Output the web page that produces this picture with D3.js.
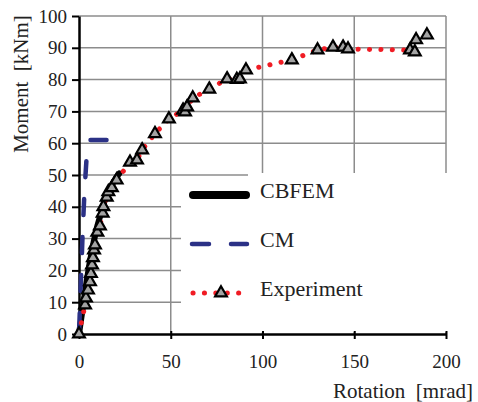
<!DOCTYPE html>
<html>
<head>
<meta charset="utf-8">
<script src="https://cdn.jsdelivr.net/npm/d3@7"></script>
<style>
  body { margin: 0; background: #fff; }
  svg { display: block; font-family: "Liberation Serif", "Times New Roman", serif; }
  text { white-space: pre; }
</style>
</head>
<body>
<svg id="chart" width="478" height="402"></svg>
<script>
// Experiment (rotation in mrad, moment in kNm)
const expRot = [0, 3.3, 3.8, 4.9, 6, 6.5, 7.1, 7.6, 8.2, 8.7, 10, 11.4, 12.9, 13.3, 15.1, 16, 17.9, 20.5,
  27.8, 31.6, 34.4, 41.4, 49, 56.7, 57.8, 58.9, 62, 71, 80.7, 86, 87.7, 91, 116, 130,
  138.4, 143.9, 146.6, 180.4, 183, 183.7, 189.6];
const expMom = [0, 9.1, 11.3, 13.8, 16.4, 19, 21.7, 24, 26.4, 28, 32, 34, 38, 40, 43, 44.7, 46, 48.4,
  54, 54.7, 57.9, 63, 67.6, 70.4, 69.8, 71.4, 74.2, 77, 80.2, 80, 80.2, 83, 86.2, 89.3,
  90.2, 90.2, 89.6, 89.3, 88.7, 92.5, 94];

// CBFEM
const cbfemRot = [0, 2, 4, 6, 8, 10, 12, 14, 17, 20, 22];
const cbfemMom = [0, 8, 16, 23, 29, 34, 38, 42, 46, 49, 50.5];

// CM
const cmRot = [0, 1, 2, 3, 4.2, 6, 20];
const cmMom = [0, 16, 32, 45, 56, 61, 61];

const xTicks = [0, 50, 100, 150, 200];
const yTicks = [0, 10, 20, 30, 40, 50, 60, 70, 80, 90, 100];
const legendNames = ["CBFEM", "CM", "Experiment"];

const svg = d3.select("#chart");
const x = d3.scaleLinear().domain([0, 200]).range([79, 446]);
const y = d3.scaleLinear().domain([0, 100]).range([334, 16]);

const gridColor = "#8c8c8c";
const cmColor = "#2b3186";
const expColor = "#f01c24";

// grid
svg.append("g").selectAll("line").data(yTicks.filter(d => d > 0)).enter().append("line")
  .attr("x1", x(0)).attr("x2", x(200))
  .attr("y1", d => y(d)).attr("y2", d => y(d))
  .attr("stroke", gridColor).attr("stroke-width", 1.5);
svg.append("g").selectAll("line").data(xTicks.filter(d => d > 0)).enter().append("line")
  .attr("x1", d => x(d)).attr("x2", d => x(d))
  .attr("y1", y(0)).attr("y2", y(100))
  .attr("stroke", gridColor).attr("stroke-width", 1.5);

// legend background hides part of the grid
svg.append("rect").attr("x", 181).attr("y", 177).attr("width", 270).attr("height", 155).attr("fill", "#fff");
svg.append("rect").attr("x", 248).attr("y", 173).attr("width", 203).attr("height", 6).attr("fill", "#fff");

// axes
const xAxis = svg.append("g")
  .attr("transform", `translate(0,${y(0)})`)
  .call(d3.axisBottom(x).tickValues(xTicks).tickSize(6).tickPadding(14.5).tickSizeOuter(0));
xAxis.selectAll(".tick line").attr("y1", -3).attr("y2", 5).attr("stroke-width", 2);

const yAxis = svg.append("g")
  .attr("transform", `translate(${x(0)},0)`)
  .call(d3.axisLeft(y).tickValues(yTicks).tickSize(7).tickPadding(5).tickSizeOuter(0));
yAxis.selectAll(".tick line").attr("stroke-width", 2);

[xAxis, yAxis].forEach(a => {
  a.attr("font-family", null);
  a.select(".domain").attr("stroke", "#000").attr("stroke-width", 2.5);
  a.selectAll("text").attr("font-size", 19).attr("fill", "#222");
});

// axis titles
svg.append("text").attr("x", 473).attr("y", 398).attr("text-anchor", "end")
  .attr("font-size", 21).attr("fill", "#222").text("Rotation  [mrad]");
svg.append("text").attr("transform", "translate(28,84) rotate(-90)").attr("text-anchor", "middle")
  .attr("font-size", 21).attr("fill", "#222").text("Moment  [kNm]");

const line = d3.line().x(d => x(d[0])).y(d => y(d[1]));

// CBFEM
svg.append("path").datum(d3.zip(cbfemRot, cbfemMom)).attr("d", line)
  .attr("fill", "none").attr("stroke", "#000").attr("stroke-width", 6)
  .attr("stroke-linecap", "round").attr("stroke-linejoin", "round");

// CM
svg.append("path").datum(d3.zip(cmRot, cmMom)).attr("d", line)
  .attr("fill", "none").attr("stroke", cmColor).attr("stroke-width", 4.5)
  .attr("stroke-dasharray", "16,22").attr("stroke-dashoffset", -5)
  .attr("stroke-linecap", "round");

// Experiment
const expPts = d3.zip(expRot, expMom);
svg.append("path").datum(expPts).attr("d", line)
  .attr("fill", "none").attr("stroke", expColor).attr("stroke-width", 5)
  .attr("stroke-dasharray", "0.1,11.3").attr("stroke-linecap", "round");

const tri = d3.symbol().type(d3.symbolTriangle).size(60);
svg.append("g").selectAll("path").data(expPts).enter().append("path")
  .attr("d", tri)
  .attr("transform", d => `translate(${x(d[0])},${y(d[1])})`)
  .attr("fill", "#a3a3a3").attr("stroke", "#000").attr("stroke-width", 2.2)
  .attr("stroke-linejoin", "miter");

// legend
const lg = svg.append("g");
const rowY = [195, 244, 293];
lg.append("line").attr("x1", 193).attr("x2", 246).attr("y1", rowY[0]).attr("y2", rowY[0])
  .attr("stroke", "#000").attr("stroke-width", 8).attr("stroke-linecap", "round");
lg.append("line").attr("x1", 192).attr("x2", 247).attr("y1", rowY[1]).attr("y2", rowY[1])
  .attr("stroke", cmColor).attr("stroke-width", 4.5)
  .attr("stroke-dasharray", "17,22").attr("stroke-linecap", "round");
lg.append("line").attr("x1", 193).attr("x2", 240).attr("y1", rowY[2]).attr("y2", rowY[2])
  .attr("stroke", expColor).attr("stroke-width", 5)
  .attr("stroke-dasharray", "0.1,11.3").attr("stroke-linecap", "round");
lg.append("path").attr("d", tri).attr("transform", `translate(221,${rowY[2]})`)
  .attr("fill", "#a3a3a3").attr("stroke", "#000").attr("stroke-width", 2.2);
lg.selectAll("text").data(legendNames).enter().append("text")
  .attr("x", 260).attr("y", (d, i) => rowY[i] + 3)
  .attr("font-size", 22).attr("fill", "#222").text(d => d);
</script>
</body>
</html>
